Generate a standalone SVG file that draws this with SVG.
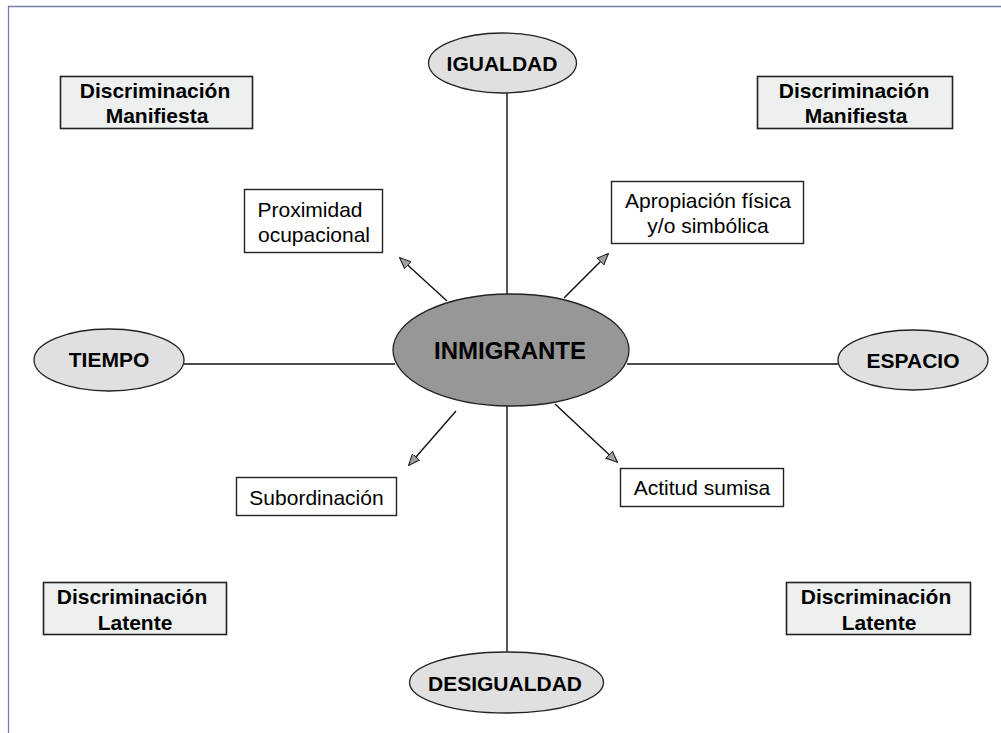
<svg xmlns="http://www.w3.org/2000/svg" width="1001" height="733" viewBox="0 0 1001 733">
<style>
.t{font-family:"Liberation Sans",Arial,sans-serif;font-size:21px;fill:#000;text-anchor:middle}
.b{font-weight:bold}
.disc{fill:#EDF0EF;stroke:#222;stroke-width:1.6}
.box{fill:#fff;stroke:#222;stroke-width:1.4}
.ell{fill:#E0E0E0;stroke:#222;stroke-width:1.3}
.ln{stroke:#111;stroke-width:1.4;fill:none}
.ar{stroke:#111;stroke-width:1.4;fill:none;marker-end:url(#ah)}
</style>
<defs>
<marker id="ah" viewBox="0 0 10 10" refX="9" refY="5" markerWidth="12" markerHeight="12" markerUnits="userSpaceOnUse" orient="auto">
<path d="M0,1 L9.5,5 L0,9 Z" fill="#A0A0A0" stroke="#222" stroke-width="0.9"/>
</marker>
</defs>
<rect width="1001" height="733" fill="#fff"/>
<g id="frame">
<line x1="8" y1="6.5" x2="1001" y2="6.5" stroke="#7A7AAE" stroke-width="1.3"/>
<line x1="8.5" y1="6" x2="8.5" y2="733" stroke="#7A7AAE" stroke-width="1.3"/>
</g>
<g id="connectors">
<line class="ln" x1="507" y1="93" x2="507" y2="294"/>
<line class="ln" x1="507" y1="405" x2="507" y2="653"/>
<line class="ln" x1="184" y1="364" x2="395" y2="364"/>
<line class="ln" x1="627" y1="364" x2="838" y2="364"/>
<line class="ar" x1="447" y1="301" x2="400" y2="258"/>
<line class="ar" x1="564" y1="298" x2="608" y2="254"/>
<line class="ar" x1="456" y1="411" x2="409" y2="465"/>
<line class="ar" x1="555" y1="404" x2="617" y2="462"/>
</g>
<g id="inmigrante">
<ellipse cx="511" cy="350" rx="118" ry="56" fill="#979797" stroke="#222" stroke-width="1.3"/>
<text class="t b" x="510" y="359" style="font-size:24px">INMIGRANTE</text>
</g>
<g id="igualdad">
<ellipse class="ell" cx="502.5" cy="63" rx="74" ry="30"/>
<text class="t b" x="502" y="71">IGUALDAD</text>
</g>
<g id="desigualdad">
<ellipse class="ell" cx="506.5" cy="682.5" rx="97" ry="30.5"/>
<text class="t b" x="505" y="691">DESIGUALDAD</text>
</g>
<g id="tiempo">
<ellipse class="ell" cx="109" cy="360" rx="75" ry="31"/>
<text class="t b" x="109" y="367">TIEMPO</text>
</g>
<g id="espacio">
<ellipse class="ell" cx="913" cy="360" rx="75" ry="30"/>
<text class="t b" x="913" y="368">ESPACIO</text>
</g>
<g id="disc-manifiesta-left">
<rect class="disc" x="60.5" y="76.5" width="192" height="52"/>
<text class="t b" x="155" y="98">Discriminación</text>
<text class="t b" x="157" y="123">Manifiesta</text>
</g>
<g id="disc-manifiesta-right">
<rect class="disc" x="757.5" y="76.5" width="195" height="52"/>
<text class="t b" x="854" y="98">Discriminación</text>
<text class="t b" x="856" y="123">Manifiesta</text>
</g>
<g id="disc-latente-left">
<rect class="disc" x="43.5" y="582.5" width="183" height="52"/>
<text class="t b" x="132" y="604">Discriminación</text>
<text class="t b" x="135" y="630">Latente</text>
</g>
<g id="disc-latente-right">
<rect class="disc" x="786.5" y="582.5" width="184" height="52"/>
<text class="t b" x="876" y="604">Discriminación</text>
<text class="t b" x="879" y="630">Latente</text>
</g>
<g id="proximidad">
<rect class="box" x="244.5" y="189.5" width="138" height="63"/>
<text class="t" x="310" y="217">Proximidad</text>
<text class="t" x="314" y="242">ocupacional</text>
</g>
<g id="apropiacion">
<rect class="box" x="611.5" y="181.5" width="192" height="62"/>
<text class="t" x="708" y="208">Apropiación física</text>
<text class="t" x="708" y="233">y/o simbólica</text>
</g>
<g id="subordinacion">
<rect class="box" x="236.5" y="477.5" width="160" height="38"/>
<text class="t" x="316.5" y="505">Subordinación</text>
</g>
<g id="actitud">
<rect class="box" x="620.5" y="468.5" width="163" height="38"/>
<text class="t" x="702" y="495">Actitud sumisa</text>
</g>
</svg>
